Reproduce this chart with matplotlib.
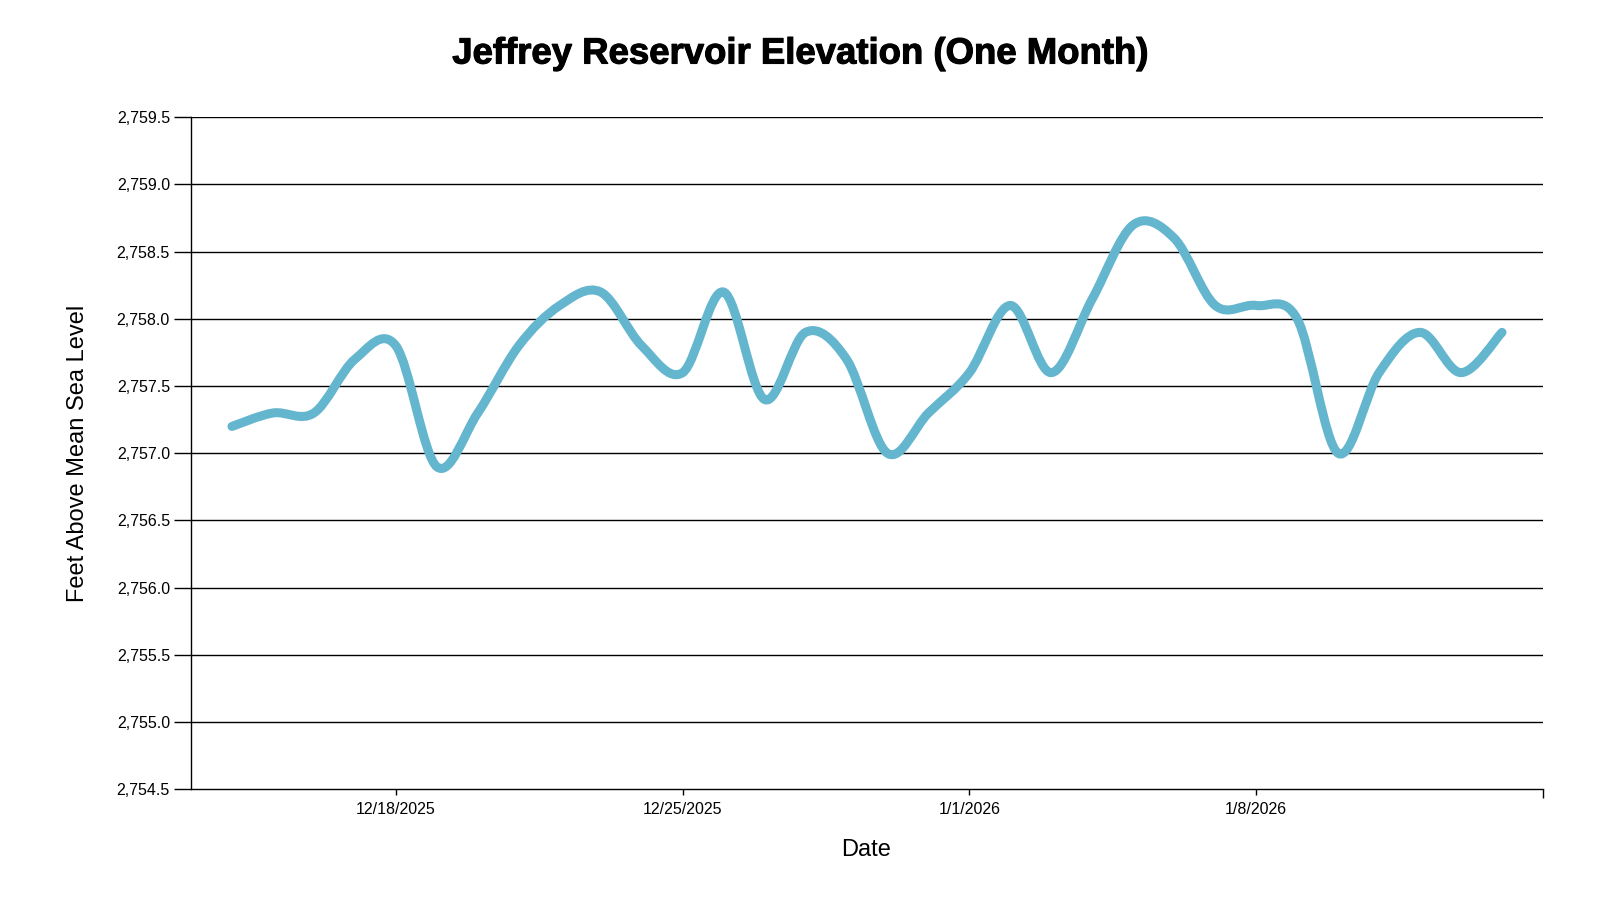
import numpy as np
import matplotlib
matplotlib.use("Agg")
import matplotlib.pyplot as plt
import matplotlib.dates as mdates
from matplotlib.path import Path
from matplotlib.patches import PathPatch
import matplotlib.patheffects as pe
from datetime import datetime, timedelta

plt.rcParams['font.family'] = ['Liberation Sans', 'DejaVu Sans']

# ---- data ----
start_date = "2025-12-14"
elevation = [2757.20, 2757.30, 2757.30, 2757.70, 2757.80, 2756.90, 2757.30, 2757.80,
             2758.10, 2758.20, 2757.80, 2757.60, 2758.20, 2757.40, 2757.90, 2757.70,
             2757.00, 2757.30, 2757.60, 2758.10, 2757.60, 2758.15, 2758.70, 2758.60,
             2758.10, 2758.10, 2758.00, 2757.00, 2757.60, 2757.90, 2757.60, 2757.90]
x_domain = ["2025-12-13", "2026-01-15"]
x_tick_dates = ["2025-12-18", "2025-12-25", "2026-01-01", "2026-01-08"]
x_tick_labels = ["12/18/2025", "12/25/2025", "1/1/2026", "1/8/2026"]
y_ticks = [2754.5, 2755.0, 2755.5, 2756.0, 2756.5, 2757.0, 2757.5, 2758.0, 2758.5, 2759.0, 2759.5]

title = "Jeffrey Reservoir Elevation (One Month)"
x_label = "Date"
y_label = "Feet Above Mean Sea Level"
line_color = "#64B5CE"

# ---- figure ----
W, H = 1600, 900
fig = plt.figure(figsize=(16, 9), dpi=100)
ax = fig.add_axes([191 / W, 1 - 789.3 / H, (1543 - 191) / W, (789.3 - 117.3) / H])

d0 = datetime.strptime(start_date, "%Y-%m-%d")
dates = [d0 + timedelta(days=i) for i in range(len(elevation))]
xs = mdates.date2num(dates)
ys = np.array(elevation)

# smooth curve (Catmull-Rom as cubic Bezier path in data coords)
px = np.concatenate([[xs[0]], xs, [xs[-1]]])
py = np.concatenate([[ys[0]], ys, [ys[-1]]])
verts = [(xs[0], ys[0])]
codes = [Path.MOVETO]
for i in range(1, len(px) - 2):
    p0 = np.array([px[i - 1], py[i - 1]])
    p1 = np.array([px[i], py[i]])
    p2 = np.array([px[i + 1], py[i + 1]])
    p3 = np.array([px[i + 2], py[i + 2]])
    c1 = p1 + (p2 - p0) / 6.0
    c2 = p2 - (p3 - p1) / 6.0
    verts += [tuple(c1), tuple(c2), tuple(p2)]
    codes += [Path.CURVE4] * 3
patch = PathPatch(Path(verts, codes), facecolor="none", edgecolor=line_color,
                  linewidth=6.5, capstyle="round", joinstyle="round", zorder=3)
ax.add_patch(patch)

xd = mdates.date2num([datetime.strptime(s, "%Y-%m-%d") for s in x_domain])
ax.set_xlim(xd[0], xd[1])
ax.set_ylim(y_ticks[0], y_ticks[-1])

# gridlines
for yv in y_ticks[1:]:
    ax.axhline(yv, color="black", linewidth=1.0, zorder=1)

for s in ["top", "right"]:
    ax.spines[s].set_visible(False)
for s in ["left", "bottom"]:
    ax.spines[s].set_linewidth(1.0)
    ax.spines[s].set_color("black")

ax.set_yticks(y_ticks)
ax.set_yticklabels([f"{v:,.1f}" for v in y_ticks])
ax.tick_params(axis="y", length=12.2, width=1.0, pad=3, labelsize=11.5, colors="black")

xt = mdates.date2num([datetime.strptime(s, "%Y-%m-%d") for s in x_tick_dates])
ax.set_xticks(xt)
ax.set_xticklabels(x_tick_labels)
ax.tick_params(axis="x", length=4.3, width=1.0, pad=4.5, labelsize=11.5, colors="black")

# outer tick at right end of x axis
ax.plot([1, 1], [0, -9 / 672], transform=ax.transAxes, color="black",
        linewidth=1.0, clip_on=False, solid_capstyle="butt")

fig.text(0.5, 1 - 54 / H, title, ha="center", va="center", fontsize=26.3,
         fontweight="bold", color="black",
         path_effects=[pe.withStroke(linewidth=0.8, foreground="black")])
fig.text(866 / W, 1 - 850 / H, x_label, ha="center", va="center", fontsize=17)
fig.text(78.5 / W, 1 - 453 / H, y_label, ha="center", va="center", fontsize=17,
         rotation=90)

fig.savefig("out.png", dpi=100, facecolor="white")
